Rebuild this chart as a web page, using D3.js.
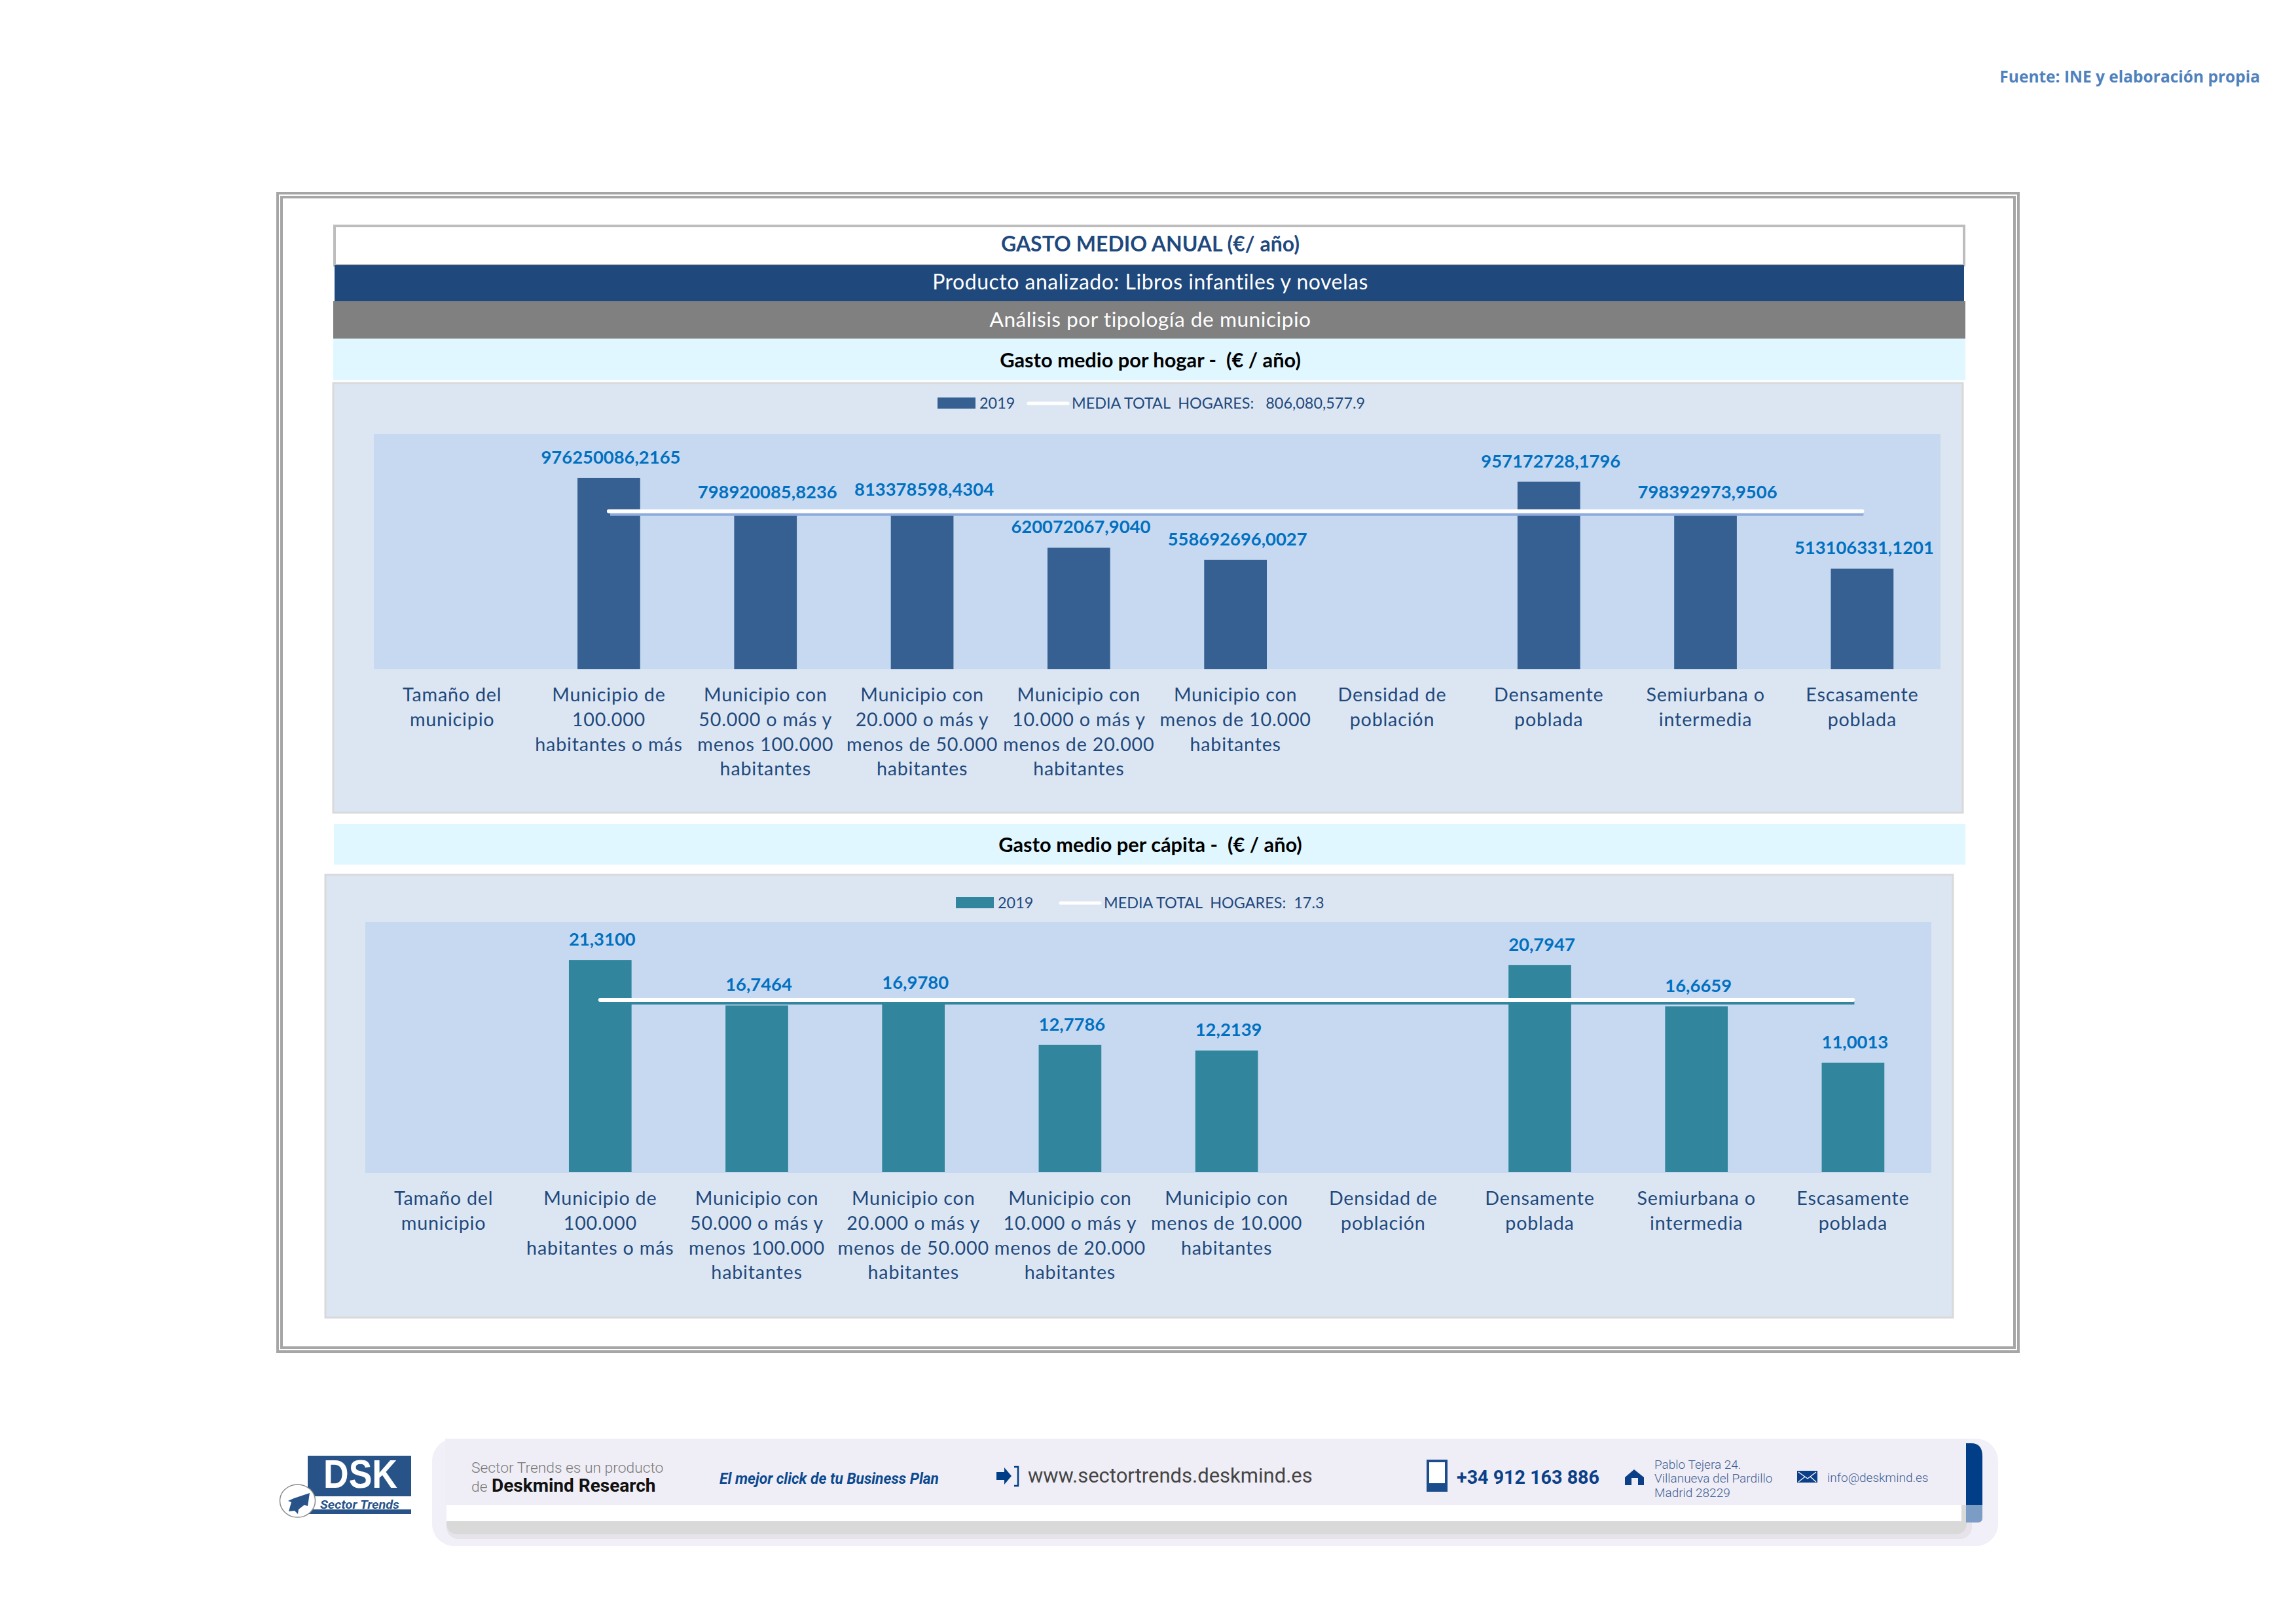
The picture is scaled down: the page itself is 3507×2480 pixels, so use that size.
<!DOCTYPE html>
<html><head><meta charset="utf-8">
<script src="https://cdn.jsdelivr.net/npm/d3@7/dist/d3.min.js"></script>
<style>html,body{margin:0;padding:0;background:#fff}svg{display:block}</style>
</head><body>
<script>
const categories = ["Tamaño del municipio","Municipio de 100.000 habitantes o más","Municipio con 50.000 o más y menos 100.000 habitantes","Municipio con 20.000 o más y menos de 50.000 habitantes","Municipio con 10.000 o más y menos de 20.000 habitantes","Municipio con menos de 10.000 habitantes","Densidad de población","Densamente poblada","Semiurbana o intermedia","Escasamente poblada"];
const categoryLines = [["Tamaño del","municipio"],["Municipio de","100.000","habitantes o más"],["Municipio con","50.000 o más y","menos 100.000","habitantes"],["Municipio con","20.000 o más y","menos de 50.000","habitantes"],["Municipio con","10.000 o más y","menos de 20.000","habitantes"],["Municipio con","menos de 10.000","habitantes"],["Densidad de","población"],["Densamente","poblada"],["Semiurbana o","intermedia"],["Escasamente","poblada"]];
const hogarValues = [null,976250086.2165,798920085.8236,813378598.4304,620072067.9040,558692696.0027,null,957172728.1796,798392973.9506,513106331.1201];
const capitaValues = [null,21.3100,16.7464,16.9780,12.7786,12.2139,null,20.7947,16.6659,11.0013];
const hogarMean = 806080577.9, capitaMean = 17.3;
const serieName = "2019", meanName = "MEDIA TOTAL  HOGARES:";

const W=3507,H=2480, F='Lato, sans-serif', NAVY='#1F497D';
const svg=d3.select('body').append('svg').attr('width',W).attr('height',H).attr('viewBox',[0,0,W,H]).style('background','#fff');
const rect=(x0,y0,x1,y1,fill,stroke,sw)=>svg.append('rect').attr('x',x0).attr('y',y0).attr('width',x1-x0).attr('height',y1-y0).attr('fill',fill||'none').attr('stroke',stroke||'none').attr('stroke-width',sw||0);
const text=(x,y,s,size,fill,o={})=>{const t=svg.append('text').attr('x',x).attr('y',y).text(s).attr('xml:space','preserve').style('white-space','pre')
  .attr('font-family',o.family||F).attr('font-size',size).attr('font-weight',o.weight||400).attr('font-style',o.style||'normal')
  .attr('letter-spacing',o.ls||0).attr('text-anchor',o.anchor||'start').attr('fill',fill);
  if(o.len) t.attr('textLength',o.len).attr('lengthAdjust','spacingAndGlyphs');
  return t;};

text(3452,126,'Fuente: INE y elaboración propia',24.5,'#4F81BD',{anchor:'end',weight:700,family:'"Open Sans", sans-serif'});

// frame
rect(424,295,3083,2064,'none','#A6A6A6',4);
rect(430,301,3077,2058,'none','#A6A6A6',4);

// header
rect(511,345,3000,405,'#fff','#BDBDBD',4);
rect(511,405,3000,460,'#1F487C');
rect(509,460,3002,517,'#808080');
rect(509,517,3002,580.5,'#E0F7FF');
const CX=1757;
text(CX,384,'GASTO MEDIO ANUAL (€/ año)',32,NAVY,{anchor:'middle',weight:700});
text(CX,442,'Producto analizado: Libros infantiles y novelas',32,'#fff',{anchor:'middle',ls:.5});
text(CX,499,'Análisis por tipología de municipio',31.7,'#fff',{anchor:'middle',ls:.5});
text(CX,561,'Gasto medio por hogar -  (€ / año)',30.8,'#000',{anchor:'middle',weight:700});
rect(510,1258,3002,1320.5,'#E0F7FF');
text(CX,1301,'Gasto medio per cápita -  (€ / año)',30.8,'#000',{anchor:'middle',weight:700});

function chart(c){
  rect(c.px0,c.py0,c.px1,c.py1,'#DCE6F2','#D9D9D9',3);
  rect(c.x0,c.y0,c.x1,c.y1,'#C6D9F1');
  const x=d3.scaleBand().domain(categories).range([c.x0,c.x1]).paddingInner(.6).paddingOuter(.3);
  const y=d3.scaleLinear().domain([0,c.max]).range([c.base,c.base-c.plotH]);
  const g=svg.append('g');
  const rows=categories.map((k,i)=>({k,v:c.values[i]})).filter(d=>d.v!=null);
  g.selectAll('rect.bar').data(rows).join('rect').attr('class','bar').attr('x',d=>x(d.k)).attr('width',x.bandwidth())
    .attr('y',d=>y(d.v)).attr('height',d=>y(0)-y(d.v)).attr('fill',c.color);
  const lx=[x(categories[1])+x.bandwidth()/2,x(categories[9])+x.bandwidth()/2];
  const line=d3.line().x(d=>d).y(y(c.mean));
  g.append('path').attr('d',line(lx)).attr('transform','translate(2,4)').attr('stroke',c.shadow).attr('stroke-width',6).attr('fill','none');
  g.append('path').attr('d',line(lx)).attr('stroke','#fff').attr('stroke-width',6).attr('stroke-linecap','round').attr('fill','none');
  g.selectAll('text.val').data(rows).join('text').attr('class','val').attr('x',d=>x(d.k)+x.bandwidth()/2+3).attr('y',d=>y(d.v)-22)
    .attr('text-anchor','middle').attr('font-family',F).attr('font-weight',700).attr('font-size',27.4).attr('fill','#0070C0')
    .text(d=>d3.format('.4f')(d.v).replace('.',','));
  const ax=svg.append('g').attr('transform',`translate(0,${c.base})`).call(d3.axisBottom(x).tickSize(0).tickPadding(0));
  ax.select('.domain').remove();
  ax.selectAll('.tick text').each(function(k){
    const t=d3.select(this).text(null).attr('y',null).attr('dy',null).attr('font-family',F).attr('font-size',28.7).attr('fill',NAVY).attr('letter-spacing',.8);
    categoryLines[categories.indexOf(k)].forEach((s,i)=>t.append('tspan').attr('x',0).attr('y',c.labelDy+i*37.8).text(s));
  });
  // legend
  rect(c.lx,c.ly-17,c.lx+58,c.ly,c.color);
  text(c.lx+64,c.ly,serieName,23.4,NAVY);
  svg.append('line').attr('x1',c.lx2).attr('x2',c.lx2+60).attr('y1',c.ly-8).attr('y2',c.ly-8).attr('stroke','#fff').attr('stroke-width',5).attr('stroke-linecap','round');
  text(c.lx2+66,c.ly,meanName+c.gap+c.meanLabel,23.4,NAVY);
}
chart({px0:509,py0:585,px1:2998,py1:1241,x0:571,x1:2964,y0:663,y1:1022,base:1022,plotH:359,max:1.2e9,values:hogarValues,mean:hogarMean,color:'#376092',shadow:'#8EAADB',labelDy:49,lx:1432,lx2:1571,ly:624,gap:'   ',meanLabel:d3.format(',.1f')(hogarMean)});
chart({px0:497,py0:1336,px1:2983,py1:2012,x0:558,x1:2950,y0:1408,y1:1791,base:1790,plotH:380,max:25,values:capitaValues,mean:capitaMean,color:'#31859C',shadow:'#31859C',labelDy:50,lx:1460,lx2:1620,ly:1387,gap:'  ',meanLabel:String(capitaMean)});

// footer
const R='Roboto, sans-serif';
svg.append('rect').attr('x',660).attr('y',2197).attr('width',2392).attr('height',164).attr('rx',34).attr('fill','#F1EFF7');
rect(680,2197,3004,2298,'#EFEDF5');
svg.append('rect').attr('x',682).attr('y',2290).attr('width',2330).attr('height',60).attr('rx',18).attr('fill','#E6E4EA');
svg.append('rect').attr('x',682).attr('y',2290).attr('width',2322).attr('height',53).attr('rx',16).attr('fill','#D9D9D9');
rect(682,2298,2996,2323,'#fff');
rect(682,2197,3003,2298,'#EFEDF5');
svg.append('path').attr('d','M3003 2204h8q17 0 17 20v74h-25z').attr('fill','#003F88');
svg.append('path').attr('d','M3003 2298h25v20q0 7-7 7h-18z').attr('fill','#7B9CC4');
// logo
rect(470,2223,628,2285,'#285389');
rect(470,2285,628,2305,'#fff');
rect(472,2305,628,2312,'#285389');
text(494,2272,'DSK',61,'#fff',{weight:700,len:113,family:'"Liberation Sans Narrow","Liberation Sans",sans-serif'});
text(489,2304,'Sector Trends',18.5,'#285389',{weight:700,style:'italic',len:121,family:'Roboto,sans-serif'});
svg.append('ellipse').attr('cx',454.5).attr('cy',2292).attr('rx',27).attr('ry',25).attr('fill','#fff').attr('stroke','#8a8a8a').attr('stroke-width',1.5);
svg.append('path').attr('d','M473 2280l-3 20-5-2-9 7-1 7-5-5-9 1 4-14-5-2 9-4z').attr('fill','#285389');
text(720,2249,'Sector Trends es un producto',22.8,'#7A7A7A',{family:R,weight:300});
text(720,2278,'de',22.8,'#7A7A7A',{family:R,weight:300});
text(751,2278,'Deskmind Research',28,'#111',{family:R,weight:700});
text(1099,2266,'El mejor click de tu Business Plan',23,'#0B4A8F',{family:R,weight:700,style:'italic',len:335});
svg.append('path').attr('d','M1522 2248h12v-7l11 13-11 13v-7h-12z').attr('fill','#003F88');
svg.append('path').attr('d','M1549 2240h6v29h-6').attr('fill','none').attr('stroke','#003F88').attr('stroke-width',2.5);
text(1570,2264,'www.sectortrends.deskmind.es',31,'#444',{family:R});
rect(2181,2231,2209,2276,'#fff','#1B4C8C',4);
rect(2181,2265,2209,2276,'#1B4C8C');
text(2225,2266,'+34 912 163 886',29,'#0B3F88',{family:R,weight:700,len:218});
svg.append('path').attr('d','M2482 2256l14-12 15 12v12h-9v-11h-10v11h-10z').attr('fill','#0B3F88');
['Pablo Tejera 24.','Villanueva del Pardillo','Madrid 28229'].forEach((s,i)=>text(2527,[2243,2264,2286][i],s,19,'#3D5F94',{family:R,weight:300}));
rect(2745,2246,2776,2264,'#0B3F88');
svg.append('path').attr('d','M2747 2248l14 10 13-10M2747 2263l10-8M2774 2263l-9-8').attr('fill','none').attr('stroke','#fff').attr('stroke-width',1.2);
text(2791,2263,'info@deskmind.es',19,'#3D5F94',{family:R,weight:300});
</script>
</body></html>
